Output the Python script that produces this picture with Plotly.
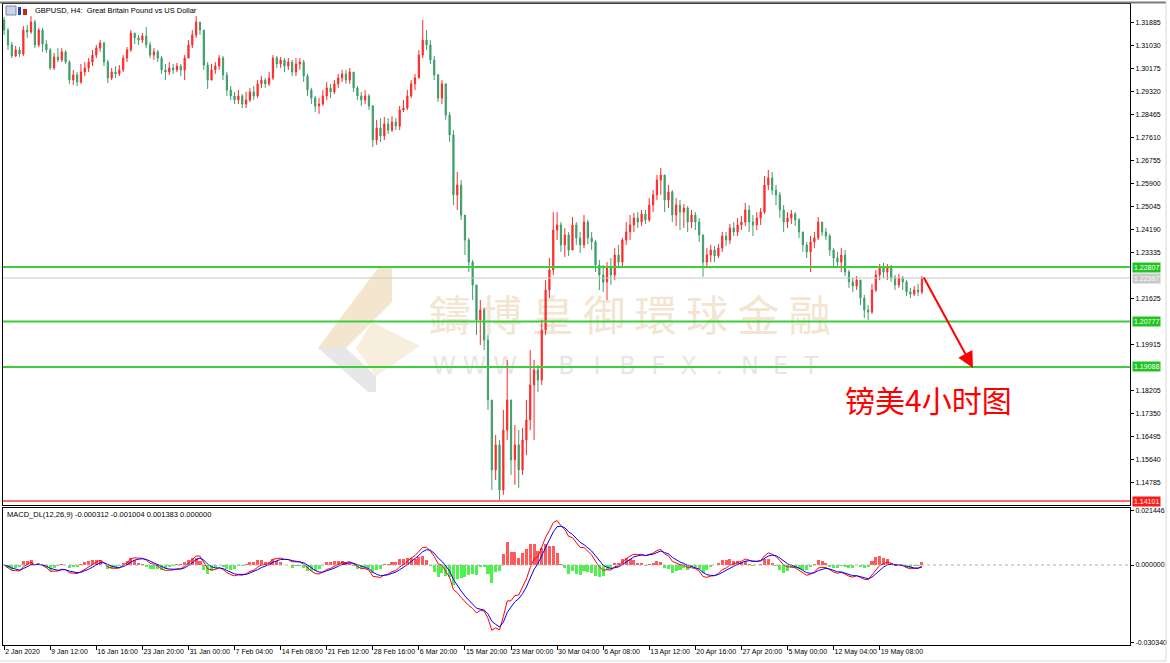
import numpy as np
import pandas as pd
import plotly.graph_objects as go

# ---------------- data ----------------
symbol_title = "GBPUSD, H4:  Great Britain Pound vs US Dollar"
macd_title = "MACD_DL(12,26,9) -0.000312 -0.001004 0.001383 0.000000"
note_text = "镑美4小时图"
watermark_cn = "鑄博皇御環球金融"
watermark_en = "WWW.BIBFX.NET"

first_open = 1.3200
close = [
    1.3162, 1.3107, 1.3066, 1.3088, 1.3073, 1.3162, 1.3155, 1.3192, 1.3107, 1.3162, 1.3110, 1.3088,
    1.3021, 1.3062, 1.3051, 1.3081, 1.3043, 1.2976, 1.2995, 1.2969, 1.3006, 1.3021, 1.3043, 1.3069,
    1.3095, 1.3114, 1.3043, 1.2984, 1.3006, 1.2999, 1.3014, 1.3058, 1.3088, 1.3151, 1.3133, 1.3125,
    1.3140, 1.3107, 1.3069, 1.3081, 1.3058, 1.3014, 1.3006, 1.3021, 1.3014, 1.3028, 1.3014, 1.3058,
    1.3107, 1.3144, 1.3192, 1.3162, 1.3032, 1.2976, 1.3014, 1.3028, 1.3058, 1.2995, 1.2939, 1.2917,
    1.2902, 1.2917, 1.2887, 1.2902, 1.2932, 1.2917, 1.2962, 1.2976, 1.2962, 1.2984, 1.3058, 1.3036,
    1.3051, 1.3028, 1.3043, 1.3006, 1.3036, 1.3043, 1.2991, 1.2939, 1.2909, 1.2880, 1.2887, 1.2917,
    1.2947, 1.2932, 1.2962, 1.2984, 1.2999, 1.2976, 1.3006, 1.2947, 1.2917, 1.2902, 1.2917, 1.2880,
    1.2753, 1.2798, 1.2768, 1.2813, 1.2790, 1.2820, 1.2805, 1.2865, 1.2872, 1.2917, 1.2962, 1.2984,
    1.3069, 1.3125, 1.3107, 1.3051, 1.2995, 1.2909, 1.2962, 1.2846, 1.2772, 1.2549, 1.2586, 1.2474,
    1.2381, 1.2299, 1.2214, 1.2084, 1.2121, 1.2009, 1.1786, 1.1526, 1.1619, 1.1451, 1.1674, 1.1786,
    1.1563, 1.1619, 1.1526, 1.1637, 1.1712, 1.1842, 1.1898, 1.1860, 1.2046, 1.2195, 1.2270, 1.2418,
    1.2437, 1.2363, 1.2400, 1.2344, 1.2437, 1.2389, 1.2363, 1.2448, 1.2389, 1.2374, 1.2288, 1.2251,
    1.2225, 1.2277, 1.2251, 1.2325, 1.2299, 1.2381, 1.2411, 1.2437, 1.2463, 1.2448, 1.2478, 1.2456,
    1.2511, 1.2549, 1.2604, 1.2623, 1.2530, 1.2560, 1.2474, 1.2511, 1.2485, 1.2500, 1.2448, 1.2474,
    1.2448, 1.2400, 1.2299, 1.2325, 1.2344, 1.2322, 1.2351, 1.2396, 1.2381, 1.2426, 1.2411, 1.2437,
    1.2448, 1.2493, 1.2448, 1.2437, 1.2463, 1.2485, 1.2586, 1.2612, 1.2567, 1.2549, 1.2493, 1.2448,
    1.2463, 1.2478, 1.2456, 1.2411, 1.2363, 1.2337, 1.2374, 1.2389, 1.2448, 1.2411, 1.2396, 1.2344,
    1.2314, 1.2299, 1.2325, 1.2262, 1.2225, 1.2210, 1.2232, 1.2165, 1.2121, 1.2113, 1.2195, 1.2251,
    1.2277, 1.2262, 1.2284, 1.2240, 1.2214, 1.2240, 1.2225, 1.2188, 1.2180, 1.2195, 1.2188, 1.2240,
]
high = [
    1.3211, 1.3170, 1.3118, 1.3103, 1.3099, 1.3177, 1.3181, 1.3214, 1.3200, 1.3170, 1.3170, 1.3125,
    1.3095, 1.3077, 1.3095, 1.3095, 1.3088, 1.3051, 1.3014, 1.3006, 1.3036, 1.3043, 1.3058, 1.3088,
    1.3107, 1.3125, 1.3118, 1.3051, 1.3021, 1.3028, 1.3032, 1.3069, 1.3099, 1.3162, 1.3151, 1.3144,
    1.3151, 1.3174, 1.3118, 1.3095, 1.3088, 1.3066, 1.3036, 1.3043, 1.3036, 1.3040, 1.3036, 1.3069,
    1.3125, 1.3162, 1.3214, 1.3192, 1.3162, 1.3043, 1.3036, 1.3043, 1.3069, 1.3066, 1.3006, 1.2954,
    1.2932, 1.2939, 1.2924, 1.2932, 1.2947, 1.2954, 1.2976, 1.2991, 1.2984, 1.3006, 1.3069, 1.3066,
    1.3062, 1.3058, 1.3058, 1.3051, 1.3058, 1.3058, 1.3051, 1.2999, 1.2947, 1.2917, 1.2909, 1.2939,
    1.2969, 1.2962, 1.2976, 1.2999, 1.3014, 1.3014, 1.3021, 1.2999, 1.2954, 1.2932, 1.2939, 1.2924,
    1.2883, 1.2828, 1.2835, 1.2839, 1.2835, 1.2842, 1.2835, 1.2880, 1.2902, 1.2939, 1.2976, 1.2999,
    1.3088, 1.3200, 1.3162, 1.3125, 1.3066, 1.2999, 1.2976, 1.2962, 1.2857, 1.2790, 1.2634, 1.2604,
    1.2474, 1.2389, 1.2307, 1.2214, 1.2158, 1.2128, 1.2028, 1.1786, 1.1656, 1.1637, 1.1749, 1.1935,
    1.1712, 1.1693, 1.1674, 1.1682, 1.1786, 1.1972, 1.1935, 1.1916, 1.2084, 1.2232, 1.2314, 1.2485,
    1.2485, 1.2448, 1.2426, 1.2411, 1.2467, 1.2448, 1.2411, 1.2474, 1.2456, 1.2411, 1.2381, 1.2307,
    1.2288, 1.2299, 1.2314, 1.2351, 1.2363, 1.2389, 1.2448, 1.2474, 1.2482, 1.2485, 1.2493, 1.2493,
    1.2537, 1.2567, 1.2623, 1.2649, 1.2619, 1.2586, 1.2567, 1.2537, 1.2530, 1.2515, 1.2508, 1.2493,
    1.2485, 1.2463, 1.2389, 1.2351, 1.2363, 1.2359, 1.2366, 1.2411, 1.2411, 1.2441, 1.2448, 1.2463,
    1.2470, 1.2519, 1.2511, 1.2474, 1.2485, 1.2500, 1.2619, 1.2642, 1.2634, 1.2586, 1.2560, 1.2511,
    1.2485, 1.2493, 1.2485, 1.2463, 1.2400, 1.2374, 1.2396, 1.2411, 1.2467, 1.2437, 1.2426, 1.2404,
    1.2351, 1.2337, 1.2351, 1.2344, 1.2270, 1.2240, 1.2247, 1.2232, 1.2177, 1.2139, 1.2218, 1.2270,
    1.2292, 1.2296, 1.2292, 1.2288, 1.2251, 1.2255, 1.2247, 1.2232, 1.2203, 1.2210, 1.2218, 1.2247,
]
low = [
    1.3144, 1.3088, 1.3058, 1.3062, 1.3062, 1.3066, 1.3133, 1.3148, 1.3095, 1.3099, 1.3081, 1.3077,
    1.3014, 1.3014, 1.3043, 1.3043, 1.3036, 1.2962, 1.2958, 1.2954, 1.2962, 1.2991, 1.3006, 1.3028,
    1.3058, 1.3081, 1.3028, 1.2965, 1.2976, 1.2984, 1.2991, 1.3006, 1.3043, 1.3081, 1.3110, 1.3107,
    1.3114, 1.3095, 1.3058, 1.3051, 1.3043, 1.2999, 1.2976, 1.2995, 1.2999, 1.3006, 1.2991, 1.2976,
    1.3058, 1.3095, 1.3133, 1.3144, 1.3014, 1.2943, 1.2984, 1.2999, 1.3014, 1.2976, 1.2917, 1.2902,
    1.2887, 1.2887, 1.2872, 1.2872, 1.2895, 1.2902, 1.2909, 1.2947, 1.2947, 1.2954, 1.2976, 1.3021,
    1.3021, 1.3006, 1.3014, 1.2991, 1.2991, 1.3014, 1.2969, 1.2917, 1.2887, 1.2857, 1.2850, 1.2880,
    1.2902, 1.2909, 1.2924, 1.2947, 1.2969, 1.2962, 1.2962, 1.2932, 1.2902, 1.2880, 1.2887, 1.2865,
    1.2727, 1.2735, 1.2746, 1.2753, 1.2776, 1.2783, 1.2790, 1.2790, 1.2857, 1.2865, 1.2909, 1.2939,
    1.2991, 1.3058, 1.3088, 1.3036, 1.2976, 1.2895, 1.2887, 1.2828, 1.2746, 1.2511, 1.2493, 1.2456,
    1.2325, 1.2262, 1.2158, 1.2028, 1.1991, 1.1972, 1.1749, 1.1451, 1.1488, 1.1414, 1.1433, 1.1637,
    1.1507, 1.1470, 1.1459, 1.1507, 1.1581, 1.1674, 1.1637, 1.1816, 1.1842, 1.2028, 1.2165, 1.2251,
    1.2381, 1.2337, 1.2318, 1.2322, 1.2344, 1.2363, 1.2333, 1.2351, 1.2366, 1.2344, 1.2262, 1.2195,
    1.2188, 1.2158, 1.2214, 1.2232, 1.2277, 1.2284, 1.2363, 1.2381, 1.2411, 1.2426, 1.2433, 1.2441,
    1.2448, 1.2485, 1.2530, 1.2549, 1.2485, 1.2500, 1.2448, 1.2433, 1.2418, 1.2426, 1.2411, 1.2426,
    1.2418, 1.2374, 1.2244, 1.2277, 1.2299, 1.2299, 1.2314, 1.2337, 1.2359, 1.2366, 1.2396, 1.2396,
    1.2418, 1.2433, 1.2411, 1.2396, 1.2418, 1.2437, 1.2478, 1.2567, 1.2549, 1.2511, 1.2463, 1.2411,
    1.2426, 1.2441, 1.2433, 1.2389, 1.2337, 1.2314, 1.2262, 1.2351, 1.2381, 1.2396, 1.2381, 1.2322,
    1.2284, 1.2277, 1.2262, 1.2247, 1.2203, 1.2188, 1.2195, 1.2139, 1.2091, 1.2084, 1.2106, 1.2188,
    1.2232, 1.2240, 1.2232, 1.2225, 1.2195, 1.2203, 1.2195, 1.2173, 1.2165, 1.2173, 1.2173, 1.2180,
]

date_labels = [
    "2 Jan 2020", "9 Jan 12:00", "16 Jan 16:00", "23 Jan 20:00", "31 Jan 00:00",
    "7 Feb 04:00", "14 Feb 08:00", "21 Feb 12:00", "28 Feb 16:00", "6 Mar 20:00",
    "15 Mar 20:00", "23 Mar 00:00", "30 Mar 04:00", "6 Apr 08:00", "13 Apr 12:00",
    "20 Apr 16:00", "27 Apr 20:00", "5 May 00:00", "12 May 04:00", "19 May 08:00",
]
CANDLES_PER_LABEL = 12      # drawn candles between two time labels
H4_BARS_PER_LABEL = 32      # real H4 bars between two time labels

price_ticks = [1.31885, 1.31030, 1.30175, 1.29320, 1.28465, 1.27610, 1.26755,
               1.25900, 1.25045, 1.24190, 1.23335, 1.21625, 1.19915, 1.18205,
               1.17350, 1.16495, 1.15640, 1.14785]
macd_ticks = [0.021446, 0.000000, -0.030340]

support_levels = [1.22807, 1.20777, 1.19088]
bid_level = 1.22397
bottom_level = 1.14101
arrow_target_price = 1.1905
MACD_PERIODS = (12, 26, 9)

# ---------------- derived ----------------
n = len(close)
idx = np.arange(n)
closes = np.array(close)
opens = np.array([first_open] + close[:-1])
highs = np.maximum.reduce([np.array(high), opens, closes])
lows = np.minimum.reduce([np.array(low), opens, closes])

scale = H4_BARS_PER_LABEL / CANDLES_PER_LABEL
s = pd.Series(closes)
ema_f = s.ewm(span=MACD_PERIODS[0] / scale, adjust=False).mean()
ema_s = s.ewm(span=MACD_PERIODS[1] / scale, adjust=False).mean()
dif = ema_f - ema_s
dea = dif.ewm(span=MACD_PERIODS[2] / scale, adjust=False).mean()
hist = 2 * (dif - dea)

# ---------------- geometry ----------------
W, H = 1170, 663
ML, MR_, MT, MB = 3, 40, 4, 18
PW, PH = W - ML - MR_, H - MT - MB
PX_PER_CANDLE = 3.84
XR = [-0.3, -0.3 + PW / PX_PER_CANDLE]
main_bottom_px, macd_top_px = 505, 508


def fx(px):
    return (px - ML) / PW


def fy(py):
    return (H - MB - py) / PH


MAIN_DOM = [fy(main_bottom_px), 1.0]
MACD_DOM = [0.0, fy(macd_top_px)]
PRICE_PER_PX = 0.000372
YR = [1.22807 - (main_bottom_px - 267) * PRICE_PER_PX, 1.22807 + (267 - MT) * PRICE_PER_PX]
MACD_PER_PX = 0.000392
MR = [-(H - MB - 565) * MACD_PER_PX, (565 - macd_top_px) * MACD_PER_PX]

UP, DOWN = "#ff2a2a", "#3f9e6b"
FONT = "Liberation Sans, Arial, sans-serif"
TF = dict(family=FONT, size=7, color="black")

fig = go.Figure()
fig.add_trace(go.Candlestick(
    x=idx, open=opens, high=highs, low=lows, close=closes,
    increasing=dict(line=dict(color=UP, width=1), fillcolor=UP),
    decreasing=dict(line=dict(color=DOWN, width=1), fillcolor=DOWN),
    whiskerwidth=0, xaxis="x", yaxis="y", showlegend=False, hoverinfo="skip"))
fig.add_trace(go.Bar(
    x=idx, y=hist, width=0.8, xaxis="x2", yaxis="y2", opacity=0.8,
    marker=dict(color=["#ff3030" if v >= 0 else "#22ee22" for v in hist], line=dict(width=0)),
    showlegend=False, hoverinfo="skip"))
fig.add_trace(go.Scatter(x=idx, y=dif, mode="lines", line=dict(color="#ff0000", width=1),
                         xaxis="x2", yaxis="y2", showlegend=False, hoverinfo="skip"))
fig.add_trace(go.Scatter(x=idx, y=dea, mode="lines", line=dict(color="#0000ff", width=1),
                         xaxis="x2", yaxis="y2", showlegend=False, hoverinfo="skip"))

shapes = []
# watermark logo (behind)
beige, grey = "rgba(240,222,190,0.75)", "rgba(225,225,225,0.8)"
shapes.append(dict(type="path", xref="paper", yref="paper", layer="below", line=dict(width=0), fillcolor=beige,
                   path=f"M {fx(378)} {fy(268)} L {fx(392)} {fy(268)} L {fx(392)} {fy(302)} L {fx(346)} {fy(348)} L {fx(318)} {fy(348)} Z"))
shapes.append(dict(type="path", xref="paper", yref="paper", layer="below", line=dict(width=0), fillcolor=grey,
                   path=f"M {fx(318)} {fy(348)} L {fx(346)} {fy(348)} L {fx(376)} {fy(376)} L {fx(376)} {fy(392)} L {fx(368)} {fy(392)} Z"))
shapes.append(dict(type="path", xref="paper", yref="paper", layer="below", line=dict(width=0), fillcolor="rgba(242,226,200,0.6)",
                   path=f"M {fx(372)} {fy(322)} L {fx(420)} {fy(346)} L {fx(376)} {fy(376)} L {fx(356)} {fy(348)} Z"))
for k, ch in enumerate(watermark_cn):
    cx = 450 + k * 51.4
    shapes.append(dict(type="rect", xref="paper", yref="paper", layer="below",
                       x0=fx(cx - 25), x1=fx(cx + 25), y0=fy(344), y1=fy(294),
                       line=dict(width=0), fillcolor="rgba(0,0,0,0)",
                       label=dict(text=ch, textposition="middle center",
                                  font=dict(family="Noto Sans CJK TC", size=42, color="#f3e5d1"))))
for k, ch in enumerate(watermark_en):
    cx = 444 + k * 30.6
    shapes.append(dict(type="rect", xref="paper", yref="paper", layer="below",
                       x0=fx(cx - 14), x1=fx(cx + 14), y0=fy(378), y1=fy(350),
                       line=dict(width=0), fillcolor="rgba(0,0,0,0)",
                       label=dict(text=ch, textposition="middle center",
                                  font=dict(family="DejaVu Sans", size=24, color="#e6e6e6"))))
# levels
for lv in support_levels:
    shapes.append(dict(type="line", xref="paper", yref="y", x0=0, x1=1, y0=lv, y1=lv,
                       line=dict(color="#3ccc3c", width=2)))
shapes.append(dict(type="line", xref="paper", yref="y", x0=0, x1=1, y0=bid_level, y1=bid_level,
                   line=dict(color="#c8c8c8", width=1)))
shapes.append(dict(type="line", xref="paper", yref="y", x0=0, x1=1, y0=bottom_level, y1=bottom_level,
                   line=dict(color="#ff6a6a", width=2)))
shapes.append(dict(type="line", xref="paper", yref="y2", x0=0, x1=1, y0=0, y1=0,
                   line=dict(color="#b0b0b0", width=1, dash="dot")))
# window frame
shapes.append(dict(type="line", xref="paper", yref="paper", x0=fx(0), x1=fx(1166), y0=fy(2.5), y1=fy(2.5),
                   line=dict(color="#7a7a7a", width=2)))
shapes.append(dict(type="line", xref="paper", yref="paper", x0=fx(1166), x1=fx(1166), y0=fy(2), y1=fy(661),
                   line=dict(color="#d8d8d8", width=1)))
shapes.append(dict(type="line", xref="paper", yref="paper", x0=fx(0), x1=fx(1166), y0=fy(661), y1=fy(661),
                   line=dict(color="#d8d8d8", width=1)))
# title icon
shapes.append(dict(type="rect", xref="paper", yref="paper", x0=fx(6), x1=fx(16), y0=fy(15), y1=fy(6),
                   line=dict(color="#7a8aa8", width=1), fillcolor="#c9d4ea"))
shapes.append(dict(type="rect", xref="paper", yref="paper", x0=fx(18), x1=fx(21), y0=fy(15), y1=fy(7),
                   line=dict(width=0), fillcolor="#2040c0"))
shapes.append(dict(type="rect", xref="paper", yref="paper", x0=fx(23), x1=fx(27), y0=fy(15), y1=fy(9),
                   line=dict(width=0), fillcolor="#d02020"))

annotations = [
    dict(xref="paper", yref="paper", x=fx(33), y=fy(10.5), xanchor="left", yanchor="middle",
         text=symbol_title, showarrow=False, font=dict(family=FONT, size=7.5, color="black")),
    dict(xref="paper", yref="paper", x=fx(5), y=fy(514), xanchor="left", yanchor="middle",
         text=macd_title, showarrow=False, font=dict(family=FONT, size=7.5, color="black")),
    dict(xref="paper", yref="paper", x=fx(928), y=fy(399), xanchor="center", yanchor="middle",
         text=note_text, showarrow=False, font=dict(family="Noto Sans CJK SC", size=30, color="#ff0000")),
    dict(xref="x", yref="y", x=n - 1 + 13.3, y=arrow_target_price, ax=-50, ay=-92, axref="pixel", ayref="pixel",
         text="", showarrow=True, arrowhead=2, arrowsize=1.6, arrowwidth=2, arrowcolor="#ff0000"),
]
for lv, col in [(support_levels[0], "#22c422"), (bid_level, "#c8c8c8"), (support_levels[1], "#22c422"),
                (support_levels[2], "#22c422"), (bottom_level, "#ff1a1a")]:
    annotations.append(dict(xref="paper", yref="y", x=1, y=lv, xanchor="left", yanchor="middle", xshift=2,
                            text=f"{lv:.5f}", showarrow=False, bgcolor=col, borderpad=1,
                            font=dict(family=FONT, size=7, color="white")))

axis_common = dict(showline=True, mirror=True, linecolor="black", linewidth=1,
                   showgrid=False, zeroline=False)
fig.update_layout(
    width=W, height=H, margin=dict(l=ML, r=MR_, t=MT, b=MB),
    paper_bgcolor="white", plot_bgcolor="white", showlegend=False, bargap=0, boxgap=0.55,
    xaxis=dict(domain=[0, 1], anchor="y", range=XR, showticklabels=False, ticks="",
               rangeslider=dict(visible=False), **axis_common),
    yaxis=dict(domain=MAIN_DOM, anchor="x", side="right", range=YR, tickvals=price_ticks,
               ticktext=[f"{v:.5f}" for v in price_ticks], ticks="outside", ticklen=3,
               tickcolor="black", tickfont=TF, **axis_common),
    xaxis2=dict(domain=[0, 1], anchor="y2", range=XR, matches="x",
                tickvals=[k * CANDLES_PER_LABEL for k in range(len(date_labels))],
                ticktext=date_labels, ticks="outside", ticklen=4, tickcolor="black", tickangle=0,
                ticklabelposition="outside right", tickfont=TF, **axis_common),
    yaxis2=dict(domain=MACD_DOM, anchor="x2", side="right", range=MR, tickvals=macd_ticks,
                ticktext=[f"{v:.6f}" for v in macd_ticks], ticks="outside", ticklen=3,
                tickcolor="black", tickfont=TF, **axis_common),
    shapes=shapes, annotations=annotations,
)

fig.write_html("out.html", config={"displayModeBar": False, "staticPlot": True},
               post_script="document.body.style.margin='0';document.body.style.overflow='hidden';")
